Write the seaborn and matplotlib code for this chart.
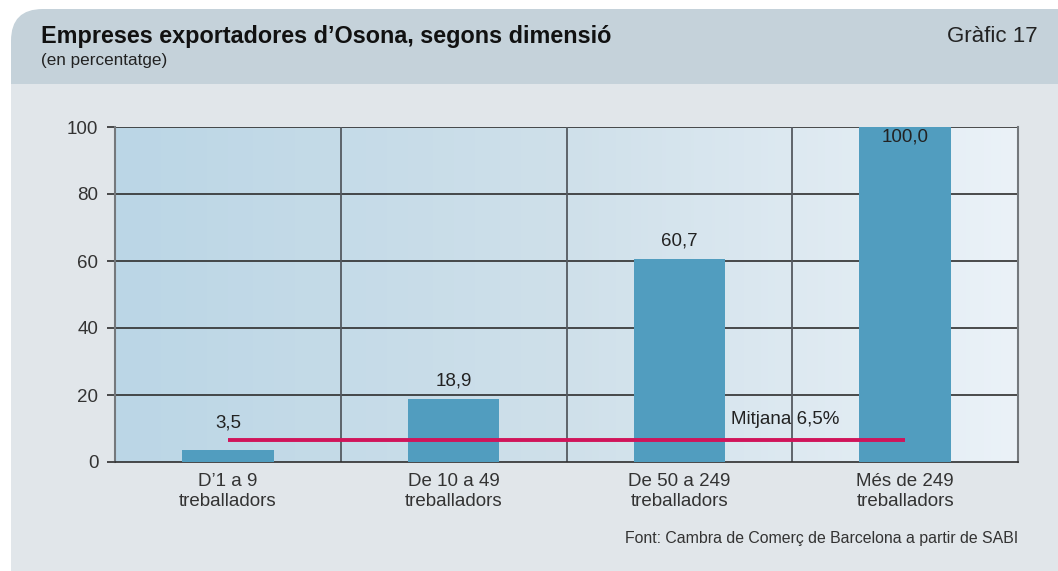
import numpy as np
import pandas as pd
import matplotlib
matplotlib.use("Agg")
import matplotlib.pyplot as plt
from matplotlib.patches import FancyBboxPatch, Rectangle
from matplotlib.colors import LinearSegmentedColormap
import seaborn as sns

# Data
categories = ["D\u20191 a 9\ntreballadors", "De 10 a 49\ntreballadors",
              "De 50 a 249\ntreballadors", "Més de 249\ntreballadors"]
values = [3.5, 18.9, 60.7, 100.0]
value_labels = ["3,5", "18,9", "60,7", "100,0"]
mean_value = 6.5
mean_label = "Mitjana 6,5%"
yticks = [0, 20, 40, 60, 80, 100]

sns.set_theme(style="white")
plt.rcParams["font.family"] = ["Liberation Sans", "DejaVu Sans"]

W, H = 1058, 571
fig = plt.figure(figsize=(W / 100, H / 100), dpi=100)
fig.patch.set_facecolor("white")

# Panel background: rounded header band and flat lower body
fig.patches.append(FancyBboxPatch((11 / W, 0.3), 1.2, 1 - 9 / H - 0.3,
                                  boxstyle="round,pad=0,rounding_size=0.03",
                                  transform=fig.transFigure, facecolor="#c5d2da",
                                  edgecolor="none", zorder=-2, mutation_aspect=W / H))
fig.patches.append(Rectangle((11 / W, 0), 1.0, 1 - 84 / H, transform=fig.transFigure,
                             facecolor="#e1e6ea", edgecolor="none", zorder=-1))

fig.text(41 / W, 1 - 37 / H, "Empreses exportadores d\u2019Osona, segons dimensió",
         fontsize=16.8, fontweight="bold", color="#111111", va="center", ha="left")
fig.text(41 / W, 1 - 61 / H, "(en percentatge)", fontsize=12.3, color="#222222",
         va="center", ha="left")
fig.text(1038 / W, 1 - 37 / H, "Gràfic 17", fontsize=16, color="#222222",
         va="center", ha="right")
fig.text(1018 / W, 1 - 539 / H, "Font: Cambra de Comerç de Barcelona a partir de SABI",
         fontsize=11.4, color="#333333", va="center", ha="right")

ax = fig.add_axes([115 / W, 1 - 462 / H, (1018 - 115) / W, (462 - 127) / H])
ax.set_facecolor("none")

# Horizontal gradient behind the plot
grad = LinearSegmentedColormap.from_list("bg", ["#bbd6e6", "#cfe0ea", "#ebf2f8"])
ax.imshow(np.linspace(0, 1, 256).reshape(1, -1), cmap=grad, aspect="auto",
          extent=(-0.5, 3.5, 0, 100), zorder=0)

df = pd.DataFrame({"cat": categories, "val": values})
sns.barplot(data=df, x="cat", y="val", color="#519dbf", saturation=1,
            width=0.405, ax=ax, zorder=3, linewidth=0, edgecolor="none")

ax.set_xlim(-0.5, 3.5)
ax.set_ylim(0, 100)
ax.set_xlabel("")
ax.set_ylabel("")

# Grid lines
for y in yticks[1:]:
    ax.axhline(y, color="#2e2e2e", lw=1.2, zorder=2)
for x in [0.5, 1.5, 2.5]:
    ax.axvline(x, color="#555a60", lw=1.3, zorder=2)

ax.set_yticks(yticks)
ax.set_yticklabels([str(t) for t in yticks], fontsize=13.5, color="#333333")
ax.set_xticks(range(len(categories)))
ax.set_xticklabels(categories, fontsize=13.5, color="#333333", linespacing=1.22)
ax.set_xticks([-0.5, 0.5, 1.5, 2.5, 3.5], minor=True)
ax.tick_params(axis="x", which="major", length=0, pad=8)
ax.tick_params(axis="x", which="minor", length=6, width=1.2, color="#555a60", direction="out")
ax.tick_params(axis="y", length=6, width=1.2, color="#2e2e2e", direction="out", pad=6, left=True)

for side in ["left", "right"]:
    ax.spines[side].set_color("#74787c")
    ax.spines[side].set_linewidth(1.5)
ax.spines["bottom"].set_color("#2e2e2e")
ax.spines["bottom"].set_linewidth(1.2)
ax.spines["top"].set_visible(False)

# Value labels: above the bar (and clear of the average line), inside when at the top
for i, (v, lab) in enumerate(zip(values, value_labels)):
    if v >= 95:
        ax.annotate(lab, (i, v), xytext=(0, -1), textcoords="offset points",
                    ha="center", va="top", fontsize=13.5, color="#222222", zorder=5)
    else:
        ax.annotate(lab, (i, max(v, mean_value)), xytext=(0, 12.5), textcoords="offset points",
                    ha="center", va="center", fontsize=13.5, color="#222222", zorder=5)

# Average line
ax.plot([0, 3], [mean_value, mean_value], color="#d0145a", lw=2.8, zorder=4,
        solid_capstyle="butt")
ax.annotate(mean_label, (2.23, mean_value), xytext=(0, 9), textcoords="offset points",
            ha="left", va="bottom", fontsize=13.5, color="#222222", zorder=5)

fig.savefig("out.png", dpi=100, facecolor=fig.get_facecolor())
